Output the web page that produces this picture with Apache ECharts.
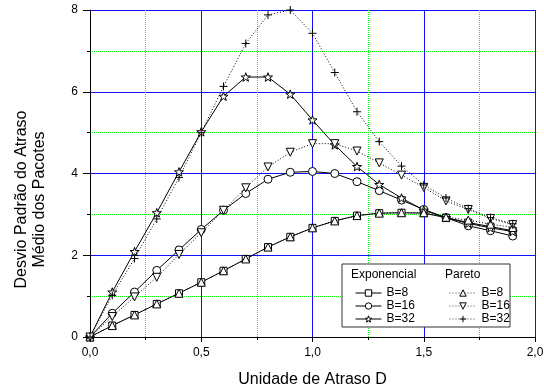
<!DOCTYPE html>
<html>
<head>
<meta charset="utf-8">
<script src="https://cdn.jsdelivr.net/npm/echarts@6/dist/echarts.min.js"></script>
<style>
  html, body { margin: 0; padding: 0; background: #fff; }
  #chart { width: 544px; height: 391px; }
</style>
</head>
<body>
<div id="chart"></div>
<script>
// Delay unit D (x values shared by every curve)
const delayUnits = [0, 0.1, 0.2, 0.3, 0.4, 0.5, 0.6, 0.7, 0.8, 0.9,
                    1.0, 1.1, 1.2, 1.3, 1.4, 1.5, 1.6, 1.7, 1.8, 1.9];

// Standard deviation of packet delay, exponential traffic
const expB8  = [0, 0.28, 0.54, 0.81, 1.07, 1.34, 1.62, 1.91, 2.20, 2.45, 2.67, 2.84, 2.97, 3.03, 3.04, 3.03, 2.92, 2.80, 2.70, 2.60];
const expB16 = [0, 0.58, 1.10, 1.63, 2.13, 2.63, 3.10, 3.51, 3.86, 4.03, 4.05, 4.00, 3.80, 3.58, 3.35, 3.12, 2.92, 2.72, 2.60, 2.47];
const expB32 = [0, 1.10, 2.09, 3.04, 4.04, 5.02, 5.89, 6.36, 6.36, 5.94, 5.31, 4.70, 4.17, 3.73, 3.40, 3.10, 2.92, 2.78, 2.67, 2.58];

// Standard deviation of packet delay, Pareto traffic
const parB8  = [0, 0.28, 0.54, 0.81, 1.07, 1.34, 1.62, 1.91, 2.20, 2.45, 2.67, 2.84, 2.97, 3.03, 3.04, 3.04, 2.93, 2.86, 2.76, 2.68];
const parB16 = [0, 0.50, 0.98, 1.46, 2.02, 2.55, 3.10, 3.65, 4.16, 4.52, 4.73, 4.73, 4.55, 4.26, 3.96, 3.66, 3.33, 3.12, 2.90, 2.75];
const parB32 = [0, 1.02, 1.92, 2.89, 3.90, 5.00, 6.13, 7.18, 7.88, 8.00, 7.43, 6.47, 5.51, 4.78, 4.18, 3.72, 3.40, 3.14, 2.92, 2.77];

// Axis ticks
const xTicks = [0, 0.5, 1.0, 1.5, 2.0];
const yTicks = [0, 2, 4, 6, 8];

const STAR = 'path://M0,-10 L2.35,-3.24 L9.51,-3.09 L3.8,1.24 L5.88,8.09 L0,4 L-5.88,8.09 L-3.8,1.24 L-9.51,-3.09 L-2.35,-3.24 Z';
const PLUS = 'path://M0,-10 L0,10 M-10,0 L10,0';

const pairs = ys => delayUnits.map((x, i) => [x, ys[i]]);

const hollow = { color: '#fff', borderColor: '#000', borderWidth: 1 };

function curve(name, ys, symbol, dotted, rotate, size) {
  return {
    name: name,
    type: 'line',
    data: pairs(ys),
    symbol: symbol,
    symbolSize: size || 8,
    symbolRotate: rotate || 0,
    symbolKeepAspect: true,
    showAllSymbol: true,
    clip: false,
    lineStyle: { color: '#000', width: 1, type: dotted ? [1, 2] : 'solid' },
    itemStyle: hollow,
    emphasis: { disabled: true },
    animation: false
  };
}

function legendItem(name, dotted) {
  return {
    name: name,
    itemStyle: hollow,
    lineStyle: { color: dotted ? '#444' : '#000', width: 1, type: dotted ? [1, 2] : 'solid' }
  };
}

const legendFmt = name => name.split(' ')[1];
const legendText = { fontFamily: 'Liberation Sans', fontSize: 12, color: '#000' };

const chart = echarts.init(document.getElementById('chart'), null, { renderer: 'canvas' });
chart.setOption({
  backgroundColor: '#fff',
  animation: false,
  textStyle: { fontFamily: 'Liberation Sans' },
  grid: { left: 90, right: 9, top: 10, bottom: 54, outerBoundsMode: 'none', containLabel: false },
  xAxis: {
    type: 'value',
    min: xTicks[0], max: xTicks[xTicks.length - 1], interval: 0.5,
    name: 'Unidade de Atraso D',
    nameLocation: 'middle', nameGap: 35,
    nameTextStyle: { fontSize: 16, color: '#000', fontFamily: 'Liberation Sans' },
    axisLine: { show: true, lineStyle: { color: '#000', width: 1 } },
    axisTick: { show: true, inside: false, length: 5, lineStyle: { color: '#000' } },
    minorTick: { show: true, splitNumber: 2, length: 3, lineStyle: { color: '#000' } },
    axisLabel: {
      fontSize: 12, color: '#000', margin: 10,
      formatter: v => v.toFixed(1).replace('.', ',')
    },
    splitLine: { show: true, lineStyle: { color: '#1010ff', width: 1 } },
    minorSplitLine: { show: true, lineStyle: { color: '#00ff00', width: 1, type: [1, 1] } }
  },
  yAxis: {
    type: 'value',
    min: yTicks[0], max: yTicks[yTicks.length - 1], interval: 2,
    name: 'Desvio Padrão do Atraso\nMédio dos Pacotes',
    nameLocation: 'middle', nameGap: 41, nameRotate: 90,
    nameTextStyle: { fontSize: 16, lineHeight: 18, color: '#000', fontFamily: 'Liberation Sans', padding: [0, 52, 0, 0] },
    axisLine: { show: true, lineStyle: { color: '#000', width: 1 } },
    axisTick: { show: true, inside: false, length: 7, lineStyle: { color: '#000' } },
    minorTick: { show: true, splitNumber: 2, length: 3, lineStyle: { color: '#000' } },
    axisLabel: { fontSize: 12, color: '#000', margin: 12 },
    splitLine: { show: true, lineStyle: { color: '#1010ff', width: 1 } },
    minorSplitLine: { show: true, lineStyle: { color: '#00ff00', width: 1, type: [1, 1] } }
  },
  legend: [
    {
      data: [legendItem('Exponencial B=8'), legendItem('Exponencial B=16'), legendItem('Exponencial B=32')],
      orient: 'vertical', left: 350, top: 282,
      itemWidth: 26, itemHeight: 8, itemGap: 1,
      formatter: legendFmt, textStyle: legendText,
      selectedMode: false, z: 6
    },
    {
      data: [legendItem('Pareto B=8', true), legendItem('Pareto B=16', true), legendItem('Pareto B=32', true)],
      orient: 'vertical', left: 444, top: 282,
      itemWidth: 27, itemHeight: 8, itemGap: 1,
      formatter: legendFmt, textStyle: legendText,
      selectedMode: false, z: 6
    }
  ],
  graphic: [
    {
      type: 'rect', z: 3,
      shape: { x: 342, y: 264, width: 168, height: 63 },
      style: { fill: '#fff', stroke: '#333', lineWidth: 1 }
    },
    {
      type: 'text', z: 4, left: 351, top: 269,
      style: { text: 'Exponencial', font: '12px "Liberation Sans"', fill: '#000' }
    },
    {
      type: 'text', z: 4, left: 445, top: 269,
      style: { text: 'Pareto', font: '12px "Liberation Sans"', fill: '#000' }
    }
  ],
  series: [
    curve('Exponencial B=8', expB8, 'rect', false, 0, 7),
    curve('Exponencial B=16', expB16, 'circle', false, 0, 8),
    curve('Exponencial B=32', expB32, STAR, false, 0, 9),
    curve('Pareto B=8', parB8, 'triangle', true, 0, 8),
    curve('Pareto B=16', parB16, 'triangle', true, 180, 8),
    curve('Pareto B=32', parB32, PLUS, true, 0, 8)
  ]
});
</script>
</body>
</html>
